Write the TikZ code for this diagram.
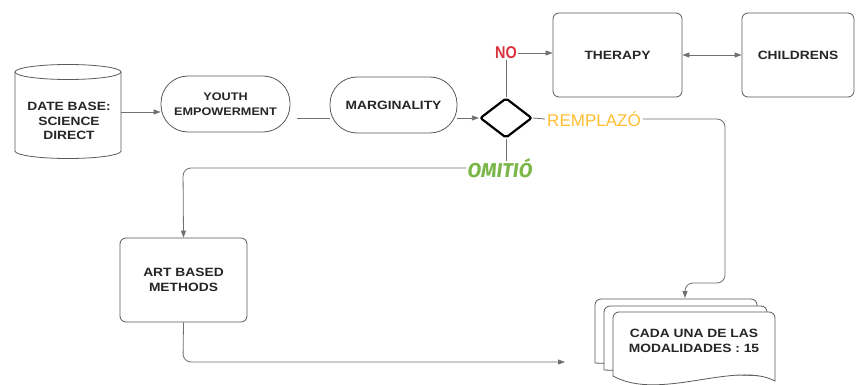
\documentclass[tikz,border=0pt]{standalone}
\usepackage{fontspec}
\setmainfont{Liberation Sans}
\newfontfamily\boxfont[FakeStretch=1.15]{Liberation Sans}
\newfontfamily\nofont[FakeStretch=0.85]{Liberation Sans}
\newfontfamily\omfont{Fira Sans}
\usetikzlibrary{arrows.meta,shapes.geometric}
\definecolor{bordergray}{HTML}{5A5A5A}
\definecolor{linegray}{HTML}{707070}
\definecolor{txtdark}{HTML}{262626}
\definecolor{nored}{HTML}{D9303E}
\definecolor{repyellow}{HTML}{FFBE30}
\definecolor{omgreen}{HTML}{7AB648}
\tikzset{
  conn/.style={draw=linegray, line width=0.8pt, rounded corners=8pt},
  arr/.style={-{Triangle[length=7pt,width=5pt]}},
  darr/.style={{Triangle[length=7pt,width=5pt]}-{Triangle[length=7pt,width=5pt]}},
  boxtxt/.style={align=center, text=txtdark, font=\boxfont\bfseries\fontsize{12}{14.5}\selectfont},
  rbox/.style={boxtxt, draw=bordergray, line width=0.8pt, rounded corners=6pt, fill=white, inner sep=0pt},
  stadium/.style={boxtxt, draw=bordergray, line width=0.8pt, rounded corners=27pt, fill=white, inner sep=0pt},
  sheet/.style={draw=bordergray, line width=0.8pt, fill=white},
  decision/.style={diamond, draw=black, line width=2.2pt, rounded corners=2pt, minimum width=52pt, minimum height=40pt, inner sep=0pt},
}
\begin{document}
\begin{tikzpicture}[x=1pt,y=-1pt]
\useasboundingbox (0,0) rectangle (856,385);
\clip (0,0) rectangle (856,385);
\fill[white] (0,0) rectangle (856,385);

% cylinder
\node[minimum width=106pt, minimum height=93pt, inner sep=0pt] (db) at (68,112) {};
\draw[sheet] (15,72) -- (15,151) arc[start angle=180,end angle=360,x radius=53pt,y radius=7.5pt] -- (121,72);
\draw[sheet] (68,72) ellipse [x radius=53pt, y radius=7.5pt];
\node[boxtxt] (dbt) at (69,121) {DATE BASE:\\SCIENCE\\DIRECT};

% stadiums
\node[stadium, minimum width=129pt, minimum height=56pt, font=\boxfont\bfseries\fontsize{11}{14.5}\selectfont] (youth) at (225.5,104) {YOUTH\\EMPOWERMENT};
\node[stadium, minimum width=127pt, minimum height=56pt] (marg) at (393.5,105) {MARGINALITY};

% decision
\node[decision] (dec) at (506,118) {};

% boxes
\node[rbox, minimum width=129pt, minimum height=84pt] (ther) at (617.5,55) {THERAPY};
\node[rbox, minimum width=112pt, minimum height=84pt] (child) at (798,55) {CHILDRENS};
\node[rbox, minimum width=127pt, minimum height=84pt] (art) at (183.5,280) {ART BASED\\METHODS};

% labels
\node[text=nored, font=\nofont\bfseries\fontsize{17}{17}\selectfont, inner sep=1pt] (no) at (506,53) {NO};
\node[text=repyellow, font=\fontsize{17}{17}\selectfont, inner sep=2pt] (rep) at (594,119) {REMPLAZÓ};
\node[text=omgreen, font=\omfont\bfseries\itshape\fontsize{20}{20}\selectfont, inner sep=1pt] (om) at (500,168) {OMITIÓ};

% document stack
\draw[sheet] (595,363) [rounded corners=6pt]-- (595,299) -- (757,299) [sharp corners]-- (757,370) -- cycle;
\draw[sheet] (604,370) [rounded corners=6pt]-- (604,306) -- (767,306) [sharp corners]-- (767,376) -- cycle;
\draw[sheet] (613,376) [rounded corners=6pt]-- (613,312) -- (775,312) [sharp corners]-- (775,381)
   .. controls (735,360) and (660,402) .. (613,376) -- cycle;
\node[boxtxt] (cada) at (694,341) {CADA UNA DE LAS\\MODALIDADES : 15};
\coordinate (docin) at (685,298);
\coordinate (docleft) at (565,362);
\coordinate (ystart) at (297,118);

% connectors
\draw[conn, arr] (db.east) -- (db.east -| youth.west);
\draw[conn] (ystart) -- (ystart -| marg.west);
\draw[conn, arr] (marg.east |- dec.west) -- (dec.west);
\draw[conn] (dec.north) -- (no.south);
\draw[conn, arr] (no.east) -- (no.east -| ther.west);
\draw[conn, darr] (ther.east) -- (child.west);
\draw[conn] (dec.east) -- (rep.west);
\draw[conn, arr] (rep.east) -- (725,119) -- (725,283) -- (685,283) -- (docin);
\draw[conn] (dec.south) -- ([yshift=-4pt]dec.south |- om.north);
\draw[conn, arr] (om.west) -- (183,168) -- (art.north);
\draw[conn, arr] (art.south) -- (183,362) -- (docleft);
\end{tikzpicture}
\end{document}
